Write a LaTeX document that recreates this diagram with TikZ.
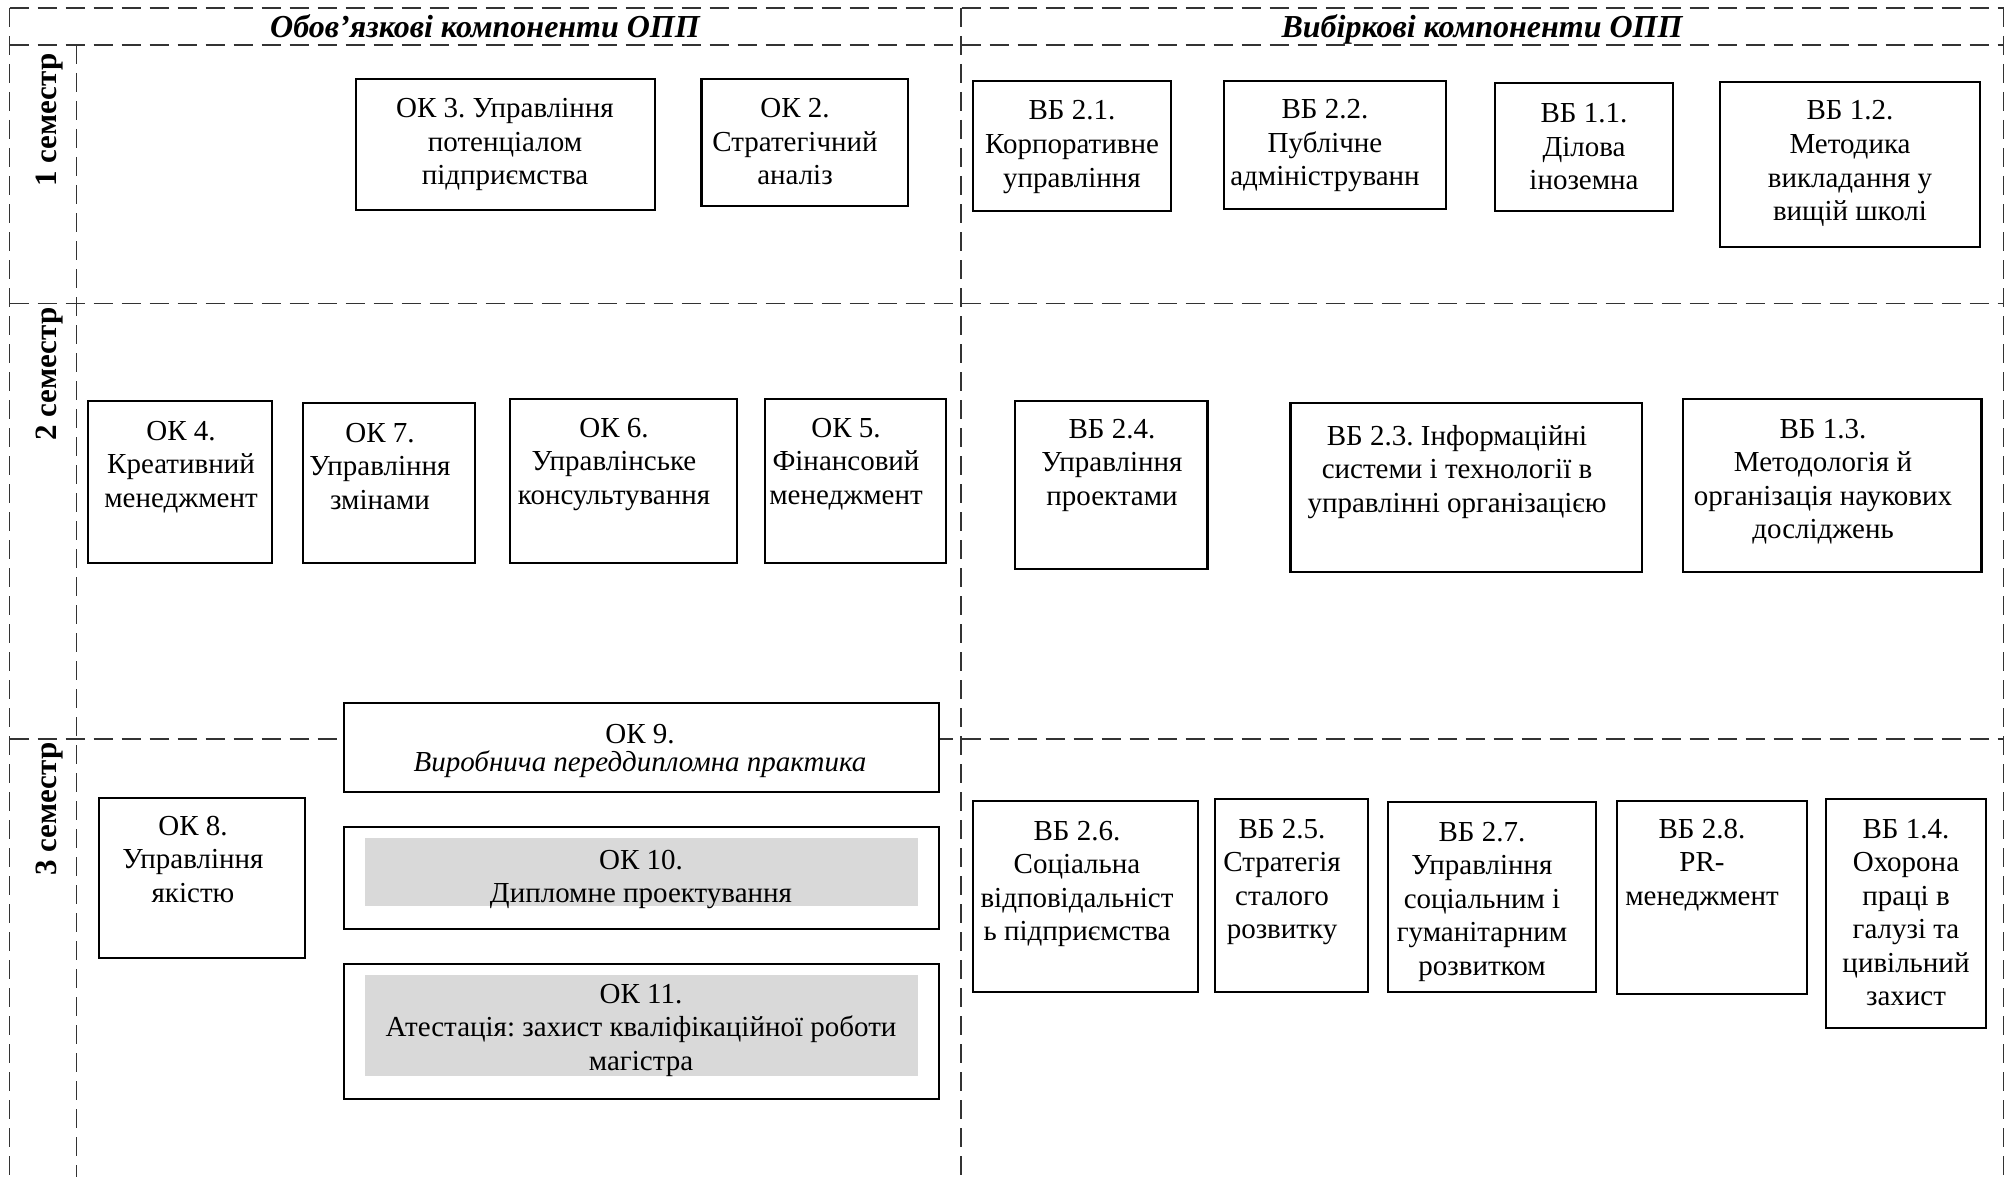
\documentclass[tikz,border=0pt]{standalone}
\usepackage{fontspec}
\setmainfont{Liberation Serif}
\usetikzlibrary{fit}
\frenchspacing
\tikzset{
  gridline/.style={draw=black!80, line width=0.75pt, dash pattern=on 9.5pt off 4.5pt},
  box/.style={draw=black, line width=1.1pt, fill=white, inner sep=0pt},
  shadebox/.style={fill=black!15, draw=none, inner sep=0pt},
  txt/.style={inner sep=0pt, anchor=base, font=\fontsize{14.5}{16.75}\selectfont},
  sem/.style={rotate=90, anchor=base east, inner sep=0pt, font=\fontsize{15.5}{18}\selectfont\bfseries},
  head/.style={anchor=base, inner sep=0pt, font=\fontsize{16}{19}\selectfont\bfseries\itshape},
}
\newcommand\ml[1]{\begin{tabular}[t]{@{}c@{}}#1\end{tabular}}
\newcommand\bx[5]{\node[box, fit={(#2,#3) (#4,#5)}] (#1) {};}
\begin{document}
\begin{tikzpicture}[x=0.5pt,y=-0.5pt]
\useasboundingbox (0,0) rectangle (2009,1177);
% grid
\draw[gridline] (9.6,8) -- (2003.5,8);
\draw[gridline] (9.6,45) -- (2003.5,45);
\draw[gridline] (9.6,303.5) -- (2003.5,303.5);
\draw[gridline] (9.6,739) -- (2003.5,739);
\draw[gridline] (9.6,8) -- (9.6,1177);
\draw[gridline] (76.5,45) -- (76.5,1177);
\draw[gridline] (961,8) -- (961,1177);
\draw[gridline] (2003.5,8) -- (2003.5,1177);
% headers
\node[head] (h1) at (485,38) {Обов’язкові компоненти ОПП};
\node[head] (h2) at (1482,38) {Вибіркові компоненти ОПП};
% semesters
\node[sem] (s1) at (56,53) {1 семестр};
\node[sem] (s2) at (56,307) {2 семестр};
\node[sem] (s3) at (56,742) {3 семестр};
% row 1
\bx{ok3}{356}{79}{655}{210}
\node[txt] (ok3t) at (505,118) {\ml{ОК 3. Управління\\потенціалом\\підприємства}};
\bx{ok2}{701.5}{79}{908}{206}
\node[txt] (ok2t) at (795,118) {\ml{ОК 2.\\Стратегічний\\аналіз}};
\bx{vb21}{973}{81}{1171}{211}
\node[txt] (vb21t) at (1072,120) {\ml{ВБ 2.1.\\Корпоративне\\управління}};
\bx{vb22}{1224}{81}{1446}{209}
\node[txt] (vb22t) at (1325,119) {\ml{ВБ 2.2.\\Публічне\\адмініструванн}};
\bx{vb11}{1495}{83}{1673}{211}
\node[txt] (vb11t) at (1584,123) {\ml{ВБ 1.1.\\Ділова\\іноземна}};
\bx{vb12}{1720}{82}{1980}{247}
\node[txt] (vb12t) at (1850,120) {\ml{ВБ 1.2.\\Методика\\викладання у\\вищій школі}};
% row 2
\bx{ok4}{88}{401}{272}{563}
\node[txt] (ok4t) at (181,440) {\ml{ОК 4.\\Креативний\\менеджмент}};
\bx{ok7}{303}{403}{475}{563}
\node[txt] (ok7t) at (380,442) {\ml{ОК 7.\\Управління\\змінами}};
\bx{ok6}{510}{399}{737}{563}
\node[txt] (ok6t) at (614,437) {\ml{ОК 6.\\Управлінське\\консультування}};
\bx{ok5}{765}{399}{946}{563}
\node[txt] (ok5t) at (846,437) {\ml{ОК 5.\\Фінансовий\\менеджмент}};
\bx{vb24}{1015}{401}{1207.5}{569}
\node[txt] (vb24t) at (1112,438) {\ml{ВБ 2.4.\\Управління\\проектами}};
\bx{vb23}{1290.5}{403}{1642}{572}
\node[txt] (vb23t) at (1457,445) {\ml{ВБ 2.3. Інформаційні\\системи і технології в\\управлінні організацією}};
\bx{vb13}{1683}{399}{1981.5}{572}
\node[txt] (vb13t) at (1823,438) {\ml{ВБ 1.3.\\Методологія й\\організація наукових\\досліджень}};
% row 3
\bx{ok8}{99}{798}{305}{958}
\node[txt] (ok8t) at (193,835) {\ml{ОК 8.\\Управління\\якістю}};
\bx{ok9}{344}{703}{939}{792}
\node[txt] (ok9t) at (640,743) {\ml{ОК 9.\\[-2.75pt]\textit{Виробнича переддипломна практика}}};
\bx{ok10}{344}{827}{939}{929}
\node[shadebox, fit={(365,838) (918,906)}] (ok10s) {};
\node[txt] (ok10t) at (641,869) {\ml{ОК 10.\\Дипломне проектування}};
\bx{ok11}{344}{964}{939}{1099}
\node[shadebox, fit={(365,975) (918,1076)}] (ok11s) {};
\node[txt] (ok11t) at (641,1003) {\ml{ОК 11.\\Атестація: захист кваліфікаційної роботи\\магістра}};
\bx{vb26}{973}{801}{1198}{992}
\node[txt] (vb26t) at (1077,840) {\ml{ВБ 2.6.\\Соціальна\\відповідальніст\\ь підприємства}};
\bx{vb25}{1215}{799}{1368}{992}
\node[txt] (vb25t) at (1282,838) {\ml{ВБ 2.5.\\Стратегія\\сталого\\розвитку}};
\bx{vb27}{1388}{802}{1596}{992}
\node[txt] (vb27t) at (1482,841) {\ml{ВБ 2.7.\\Управління\\соціальним і\\гуманітарним\\розвитком}};
\bx{vb28}{1617}{801}{1807}{994}
\node[txt] (vb28t) at (1702,838) {\ml{ВБ 2.8.\\PR-\\менеджмент}};
\bx{vb14}{1826}{799}{1986}{1028}
\node[txt] (vb14t) at (1906,838) {\ml{ВБ 1.4.\\Охорона\\праці в\\галузі та\\цивільний\\захист}};
\end{tikzpicture}
\end{document}
